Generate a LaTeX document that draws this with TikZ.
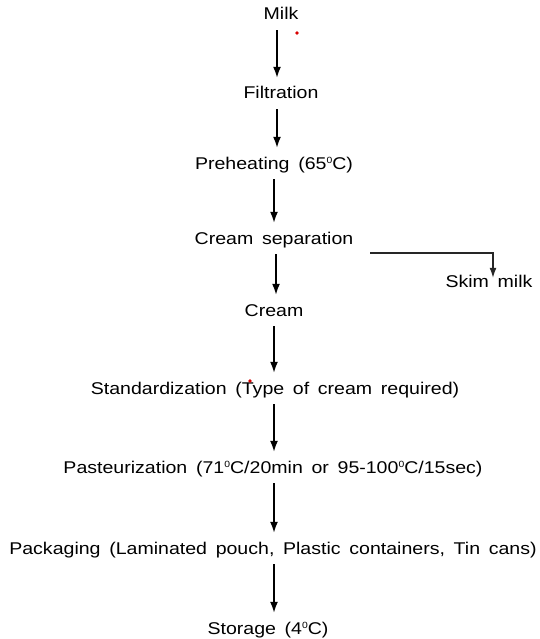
\documentclass[tikz,border=0pt]{standalone}
\usepackage{fontspec}
\setmainfont{Liberation Sans}[FakeStretch=1.15,WordSpace=1.6]
\usepackage{tikz}
\usetikzlibrary{arrows.meta}

\newcommand{\degsup}{\raisebox{5.5pt}{\fontsize{9}{9}\selectfont 0}}

\begin{document}
\begin{tikzpicture}[x=1pt,y=-1pt]

		\tikzstyle{stage}=[inner sep=2pt, text height=12pt, text depth=4pt, font=\fontsize{17}{20}\selectfont]

		\useasboundingbox (0,0) rectangle (540,639);

		\node[stage] (M)  at (281,16)  {Milk};
		\node[stage] (F)  at (281,95)  {Filtration};
		\node[stage] (PH) at (274,165) {Preheating (65\degsup C)};
		\node[stage] (CS) at (274,240) {Cream separation};
		\node[stage] (SM) at (489,283) {Skim milk};
		\node[stage] (C)  at (274,312) {Cream};
		\node[stage] (ST) at (275,390) {Standardization (Type of cream required)};
		\node[stage] (PA) at (273,469) {Pasteurization (71\degsup C/20min or 95-100\degsup C/15sec)};
		\node[stage] (PK) at (273,550) {Packaging (Laminated pouch, Plastic containers, Tin cans)};
		\node[stage] (SG) at (268,630) {Storage (4\degsup C)};

		\coordinate (split) at (370,253);

		\tikzstyle{flow}=[-{Latex[length=11pt,width=8pt]}, line width=1.7pt, shorten <=4pt, shorten >=7pt]

		\draw[flow] (M.south -| 277,0) -- (F.north -| 277,0);
		\draw[flow] (F.south -| 277,0) -- (PH.north -| 277,0);
		\draw[flow] (PH.south -| 274,0) -- (CS.north -| 274,0);
		\draw[flow] (CS.south -| 276,0) -- (C.north -| 276,0);
		\draw[flow] (C.south -| 274,0) -- (ST.north -| 274,0);
		\draw[flow] (ST.south -| 274,0) -- (PA.north -| 274,0);
		\draw[flow] (PA.south -| 274,0) -- (PK.north -| 274,0);
		\draw[flow] (PK.south -| 274,0) -- (SG.north -| 274,0);

		\draw[-{Latex[length=10pt,width=7pt]}, line width=1.3pt, black!85] (split) -| ([xshift=4pt,yshift=-5pt]SM.north);

		% stray marks
		\fill[red!85!black] (297,33) circle (1.8);
		\fill[red!85!black] (250,381) circle (1.8);

	\end{tikzpicture}
\end{document}
